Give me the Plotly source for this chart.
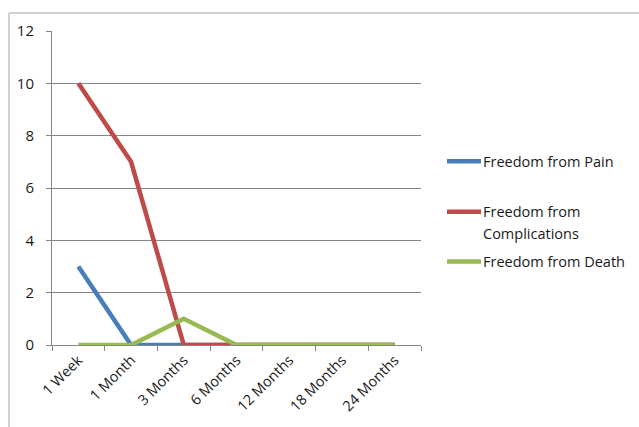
import plotly.graph_objects as go

# Follow-up time points
categories = ["1 Week", "1 Month", "3 Months", "6 Months", "12 Months", "18 Months", "24 Months"]

# Outcome counts per time point
pain = [3, 0, 0, 0, 0, 0, 0]
complications = [10, 7, 0, 0, 0, 0, 0]
death = [0, 0, 1, 0, 0, 0, 0]

y_ticks = [0, 2, 4, 6, 8, 10, 12]

series_names = ["Freedom from Pain", "Freedom from<br>Complications", "Freedom from Death"]
series_values = [pain, complications, death]
series_colors = ["#4A7EBB", "#BE4B48", "#98B954"]

font_family = "'Open Sans', sans-serif"
font_size = 14.5
text_color = "#1a1a1a"

# plot area in pixels: x 52..421, y 31..347
L, R, T, B = 52, 421, 31, 347
W, H = R - L, B - T


def px(x):
    return (x - L) / W


def py(y):
    return (B - y) / H


fig = go.Figure()
for name, vals, color in zip(series_names, series_values, series_colors):
    fig.add_trace(go.Scatter(
        x=categories, y=vals, name=name, mode="lines",
        line=dict(color=color, width=4.5), showlegend=False,
    ))

# Legend drawn at the right of the plot area
legend_rows = [162, 213, 263]
line_step = 22
shapes = []
annotations = []
for name, color, row in zip(series_names, series_colors, legend_rows):
    shapes.append(dict(type="line", xref="paper", yref="paper",
                       x0=px(447), x1=px(481), y0=py(row), y1=py(row),
                       line=dict(color=color, width=4.5)))
    for i, part in enumerate(name.split("<br>")):
        annotations.append(dict(xref="paper", yref="paper", x=px(481), y=py(row + i * line_step),
                                text=part, showarrow=False, xanchor="left", yanchor="middle",
                                align="left",
                                font=dict(size=font_size, family=font_family, color=text_color)))

# chart-area border (left and top edges)
shapes.append(dict(type="line", xref="paper", yref="paper",
                   x0=px(9), x1=px(9), y0=py(13), y1=py(440),
                   line=dict(color="#C0C0C0", width=1.5)))
shapes.append(dict(type="line", xref="paper", yref="paper",
                   x0=px(9), x1=px(660), y0=py(13), y1=py(13),
                   line=dict(color="#C0C0C0", width=1.5)))

fig.update_layout(
    width=639, height=427,
    margin=dict(l=L, r=639 - R, t=T, b=427 - B),
    paper_bgcolor="white", plot_bgcolor="white",
    font=dict(family=font_family, size=font_size, color=text_color),
    showlegend=False,
    xaxis=dict(
        type="category", range=[-0.5, 6.5],
        showgrid=False, showline=True, linecolor="#868686", linewidth=1,
        ticks="outside", tickson="boundaries", ticklen=5, tickcolor="#868686",
        tickangle=-45, tickfont=dict(size=font_size),
        zeroline=False,
    ),
    yaxis=dict(
        range=[0, 12], tickvals=y_ticks,
        showgrid=True, gridcolor="#868686", gridwidth=1,
        showline=True, linecolor="#868686", linewidth=1,
        ticks="outside", ticklen=5, tickcolor="#868686",
        ticklabelstandoff=9,
        tickfont=dict(size=15), zeroline=False,
    ),
    shapes=shapes,
    annotations=annotations,
)

fig.write_html("out.html")
